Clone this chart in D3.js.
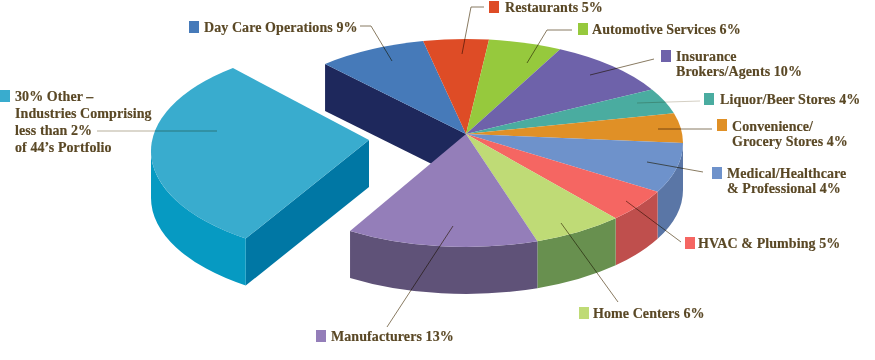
<!DOCTYPE html>
<html><head><meta charset="utf-8">
<style>html,body{margin:0;padding:0;background:#fff}svg{display:block}
text{font-family:"Liberation Serif",serif;font-weight:bold;font-size:14px;fill:#5a4825;stroke:#5a4825;stroke-width:.15px;letter-spacing:.08px}</style>
<script src="https://cdn.jsdelivr.net/npm/d3@7"></script></head><body>
<script>
// Data (drawn sweep of each slice in degrees; printed shares in labels)
const categories = ["Day Care Operations","Restaurants","Automotive Services","Insurance Brokers/Agents","Liquor/Beer Stores","Convenience/ Grocery Stores","Medical/Healthcare & Professional","HVAC & Plumbing","Home Centers","Manufacturers","Other"];
const shares = [9,5,6,10,4,4,4,5,6,13,30];
const sweeps = [29.1,17.5,19.6,33.3,14.4,16.6,28,18.4,24.4,51.5,107.2];
const topColors = ["#467ab9","#de4c26","#96c93d","#6e62aa","#4aaca0","#e09026","#6e92cb","#f56662","#bfdb76","#947eb9","#39acce"];
const wallColors = ["#1e285c","#de4c26","#96c93d","#6e62aa","#4aaca0","#e09026","#5a76a6","#bf4f4d","#68904f","#5f5278","#069ac2"];
const labelLines = [["Day Care Operations 9%"],["Restaurants 5%"],["Automotive Services 6%"],["Insurance","Brokers/Agents 10%"],["Liquor/Beer Stores 4%"],["Convenience/","Grocery Stores 4%"],["Medical/Healthcare","& Professional 4%"],["HVAC & Plumbing 5%"],["Home Centers 6%"],["Manufacturers 13%"],["30% Other –","Industries Comprising","less than 2%","of 44’s Portfolio"]];

// Layout of swatches, text and leader lines
const W=875,H=360,RX=217,DEPTH=47,startDeg=319.5;
const main={cx:466,cy:143,ry:104,apexX:466,apexY:134}, moved={cx:368,cy:151,ry:106,apexX:369,apexY:140,rot:2*Math.PI/180};
const swatches=[[189,21],[489,1],[578,23],[661,50],[704,93],[717,119],[712,167],[685,237],[579,307],[316,330],[0,90]];
const textPos=[[204,32],[505,12],[592,34],[676,61],[720,104],[732,131],[727,178],[698,248],[593,318],[331,341],[15,101]];
const lineGap=[0,0,0,15,0,14.5,15,0,0,0,17];
const leaders=[[[360,26],[371,26],[392,61]],[[484,7],[471,7],[462,54]],[[572,30],[547,30],[527,63]],[[654,59],[590,75]],[[700,101],[637,103]],[[712,129],[658,129]],[[703,172],[647,162]],[[681,242],[626,201]],[[618,302],[561,223]],[[387,327],[453,226]],[[97,131],[217,131]]];

const svg=d3.select("body").append("svg").attr("width",W).attr("height",H);
const rad=d=>d*Math.PI/180;
const pie=d3.pie().sort(null).startAngle(rad(startDeg)).endAngle(rad(startDeg+360));
const arcs=pie(sweeps);

function frame(f){
  const x=d3.scaleLinear().domain([-1,1]).range([f.cx-RX,f.cx+RX]);
  const y=d3.scaleLinear().domain([-1,1]).range([f.cy-f.ry,f.cy+f.ry]);
  const p=(a,dz=0)=>[x(Math.sin(a)),y(-Math.cos(a))+dz];
  const apex=(dz=0)=>[f.apexX,f.apexY+dz];
  return {p,apex,ry:f.ry};
}
function topPath(F,a0,a1){
  const s=F.p(a0),e=F.p(a1),c=F.apex();
  return `M${c}L${s}A${RX} ${F.ry} 0 ${a1-a0>Math.PI?1:0} 1 ${e}Z`;
}
function wallPath(F,a0,a1){
  const s=F.p(a0),e=F.p(a1),e2=F.p(a1,DEPTH),s2=F.p(a0,DEPTH);
  return `M${s}A${RX} ${F.ry} 0 0 1 ${e}L${e2}A${RX} ${F.ry} 0 0 0 ${s2}Z`;
}
function flatPath(F,a){
  const r=F.p(a),r2=F.p(a,DEPTH),c=F.apex(),c2=F.apex(DEPTH);
  return `M${c}L${r}L${r2}L${c2}Z`;
}
const isOther=d=>d.index===10;
const wrap=a=>{const t=2*Math.PI;return a>=t?a-t:a;};
const Fm=frame(main),Fo=frame(moved);

// exploded slice
const other=arcs[10];
const oa0=other.startAngle+moved.rot,oa1=other.endAngle+moved.rot;
svg.append("path").attr("d",flatPath(Fo,oa0)).attr("fill","#0077a4");
svg.append("path").attr("d",wallPath(Fo,oa0,rad(270))).attr("fill",wallColors[10]);
svg.append("path").attr("d",topPath(Fo,oa0,oa1)).attr("fill",topColors[10]);

// main pie: cut face, outer walls, tops
const rest=arcs.filter(d=>!isOther(d));
svg.append("path").attr("d",flatPath(Fm,rest[0].startAngle)).attr("fill",wallColors[0]);
svg.append("g").selectAll("path").data(rest.filter(d=>{const a=wrap(d.startAngle);return a>=rad(90)-1e-6&&a<rad(270);}))
  .join("path").attr("fill",d=>wallColors[d.index])
  .attr("d",d=>wallPath(Fm,wrap(d.startAngle),wrap(d.endAngle)));
svg.append("g").selectAll("path").data(rest).join("path")
  .attr("fill",d=>topColors[d.index])
  .attr("d",d=>topPath(Fm,d.startAngle,d.endAngle));

// leader lines
const lineGen=d3.line();
svg.append("g").selectAll("path").data(leaders).join("path")
  .attr("d",d=>lineGen(d)).attr("fill","none")
  .attr("stroke",(d,i)=>i===10||i===4?"#cfcabc":"#7c6c50")
  .attr("stroke-width",(d,i)=>i===10?1.3:.9)
  .style("mix-blend-mode","multiply");

// legend
svg.append("g").selectAll("rect").data(swatches).join("rect")
  .attr("x",d=>d[0]).attr("y",d=>d[1]).attr("width",10).attr("height",12)
  .attr("fill",(d,i)=>topColors[i]);
const lab=svg.append("g").selectAll("text").data(labelLines).join("text")
  .attr("data-category",(d,i)=>categories[i]).attr("data-share",(d,i)=>shares[i]);
lab.selectAll("tspan").data((d,i)=>d.map((t,j)=>({t,x:textPos[i][0],y:textPos[i][1]+j*lineGap[i]})))
  .join("tspan").attr("x",d=>d.x).attr("y",d=>d.y).text(d=>d.t);
</script></body></html>
